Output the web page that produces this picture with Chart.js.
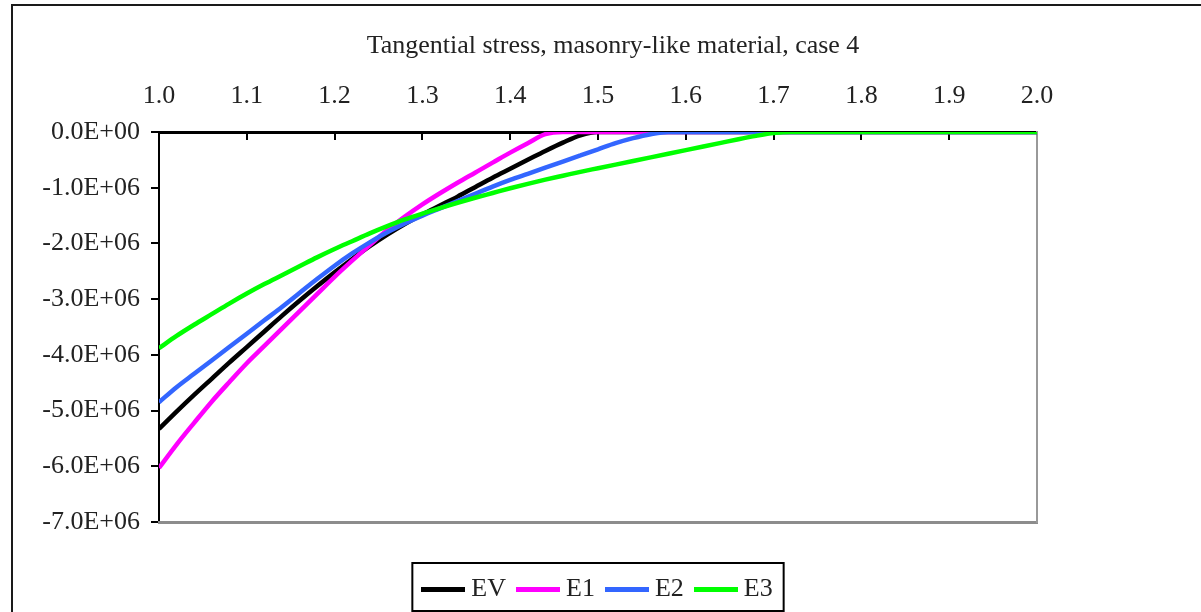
<!DOCTYPE html>
<html>
<head>
<meta charset="utf-8">
<script src="https://cdn.jsdelivr.net/npm/chart.js@4.4.1/dist/chart.umd.min.js"></script>
<style>
  html, body { margin: 0; padding: 0; background: #ffffff; }
  canvas { display: block; }
</style>
</head>
<body>
<canvas id="stressChart" width="1201" height="612"></canvas>
<script>
// Tangential stress along the radius for four elasticity variants
const chartTitle = 'Tangential stress, masonry-like material, case 4';
const seriesNames = ['EV', 'E1', 'E2', 'E3'];
const seriesColors = ['#000000', '#ff00ff', '#3366ff', '#00ff00'];

// radial coordinate (x axis)
const radiusRatio = [
  1.00, 1.02, 1.04, 1.06, 1.08, 1.10, 1.12, 1.14, 1.16, 1.18,
  1.20, 1.22, 1.24, 1.26, 1.28, 1.30, 1.32, 1.34, 1.36, 1.38,
  1.40, 1.42, 1.44, 1.46, 1.48, 1.50, 1.52, 1.54, 1.56, 1.58,
  1.60, 1.62, 1.64, 1.66, 1.68, 1.70, 1.72, 1.80, 1.90, 2.00
];

// tangential stress, Pa
const stressEV = [
  -5.33e6, -5.02e6, -4.72e6, -4.43e6, -4.14e6, -3.86e6, -3.58e6, -3.30e6, -3.03e6, -2.77e6,
  -2.52e6, -2.28e6, -2.05e6, -1.84e6, -1.65e6, -1.48e6, -1.32e6, -1.16e6, -0.99e6, -0.82e6,
  -0.66e6, -0.50e6, -0.34e6, -0.19e6, -0.06e6, 0, 0, 0, 0, 0,
  0, 0, 0, 0, 0, 0, 0, 0, 0, 0
];
const stressE1 = [
  -6.03e6, -5.61e6, -5.22e6, -4.84e6, -4.49e6, -4.15e6, -3.84e6, -3.53e6, -3.22e6, -2.91e6,
  -2.60e6, -2.31e6, -2.03e6, -1.76e6, -1.52e6, -1.30e6, -1.10e6, -0.91e6, -0.73e6, -0.55e6,
  -0.37e6, -0.20e6, -0.04e6, 0, 0, 0, 0, 0, 0, 0,
  0, 0, 0, 0, 0, 0, 0, 0, 0, 0
];
const stressE2 = [
  -4.85e6, -4.58e6, -4.34e6, -4.10e6, -3.86e6, -3.62e6, -3.38e6, -3.14e6, -2.89e6, -2.64e6,
  -2.40e6, -2.18e6, -1.98e6, -1.80e6, -1.64e6, -1.50e6, -1.37e6, -1.24e6, -1.11e6, -0.98e6,
  -0.86e6, -0.75e6, -0.64e6, -0.53e6, -0.42e6, -0.31e6, -0.20e6, -0.11e6, -0.04e6, 0,
  0, 0, 0, 0, 0, 0, 0, 0, 0, 0
];
const stressE3 = [
  -3.88e6, -3.66e6, -3.46e6, -3.27e6, -3.08e6, -2.90e6, -2.73e6, -2.57e6, -2.41e6, -2.25e6,
  -2.10e6, -1.96e6, -1.82e6, -1.69e6, -1.57e6, -1.465e6, -1.365e6, -1.27e6, -1.18e6, -1.095e6,
  -1.01e6, -0.93e6, -0.855e6, -0.785e6, -0.715e6, -0.65e6, -0.585e6, -0.52e6, -0.455e6, -0.39e6,
  -0.325e6, -0.26e6, -0.195e6, -0.13e6, -0.07e6, -0.02e6, 0, 0, 0, 0
];

const xTickValues = [1.0, 1.1, 1.2, 1.3, 1.4, 1.5, 1.6, 1.7, 1.8, 1.9, 2.0];
const yTickValues = [0, -1e6, -2e6, -3e6, -4e6, -5e6, -6e6, -7e6];

const allSeries = [stressEV, stressE1, stressE2, stressE3];
const serif = 'Liberation Serif';
const textColor = '#222222';
const fontSize = 26;

function formatStress(v) {
  if (v === 0) return '0.0E+00';
  return (v < 0 ? '-' : '') + (Math.abs(v) / 1e6).toFixed(1) + 'E+06';
}

// short line swatches for the legend
const swatches = seriesColors.map(c => {
  const cv = document.createElement('canvas');
  cv.width = 44; cv.height = 5;
  const g = cv.getContext('2d');
  g.fillStyle = c;
  g.fillRect(0, 0, 44, 5);
  return cv;
});

// page frame and heading
const framePlugin = {
  id: 'frame',
  beforeDraw(chart) {
    const ctx = chart.ctx;
    ctx.save();
    ctx.strokeStyle = '#1a1a1a';
    ctx.lineWidth = 2;
    ctx.beginPath();
    ctx.moveTo(12, chart.height);
    ctx.lineTo(12, 5);
    ctx.lineTo(chart.width, 5);
    ctx.stroke();
    ctx.fillStyle = textColor;
    ctx.font = fontSize + 'px "' + serif + '"';
    ctx.textAlign = 'center';
    ctx.textBaseline = 'middle';
    ctx.fillText(chartTitle, 613, 46);
    ctx.restore();
  }
};

// box around the legend entries
const legendFramePlugin = {
  id: 'legendFrame',
  afterDraw(chart) {
    const hb = chart.legend && chart.legend.legendHitBoxes;
    if (!hb || !hb.length) return;
    const first = hb[0], last = hb[hb.length - 1];
    const cy = first.top + first.height / 2;
    const left = first.left - 16;
    const right = last.left + last.width + 11;
    const ctx = chart.ctx;
    ctx.save();
    ctx.strokeStyle = '#000000';
    ctx.lineWidth = 2;
    ctx.strokeRect(left, cy - 26, right - left, 48);
    ctx.restore();
  }
};

const datasets = seriesNames.map((name, i) => ({
  label: name,
  data: radiusRatio.map((x, k) => ({ x: x, y: allSeries[i][k] })),
  borderColor: seriesColors[i],
  backgroundColor: seriesColors[i],
  borderWidth: 4.5,
  pointRadius: 0,
  fill: false,
  cubicInterpolationMode: 'monotone',
  order: seriesNames.length - 1 - i
}));

new Chart(document.getElementById('stressChart'), {
  type: 'line',
  data: { datasets: datasets },
  plugins: [framePlugin, legendFramePlugin],
  options: {
    responsive: false,
    animation: false,
    events: [],
    devicePixelRatio: 1,
    layout: { padding: 0 },
    plugins: {
      title: { display: false },
      tooltip: { enabled: false },
      legend: {
        position: 'bottom',
        maxHeight: 56,
        labels: {
          font: { family: serif, size: fontSize },
          color: textColor,
          usePointStyle: true,
          pointStyleWidth: 30,
          padding: 17,
          sort: (a, b) => a.datasetIndex - b.datasetIndex,
          generateLabels(chart) {
            const items = Chart.defaults.plugins.legend.labels.generateLabels(chart);
            items.forEach(it => { it.pointStyle = swatches[it.datasetIndex]; });
            return items;
          }
        }
      }
    },
    scales: {
      x: {
        type: 'linear',
        position: 'top',
        min: 1,
        max: 2,
        z: 1,
        afterBuildTicks(s) { s.ticks = xTickValues.map(v => ({ value: v })); },
        ticks: {
          callback: v => Number(v).toFixed(1),
          font: { family: serif, size: fontSize },
          color: textColor,
          padding: 28,
          maxRotation: 0,
          autoSkip: false
        },
        grid: { drawOnChartArea: false, tickLength: -8, color: '#000000', lineWidth: 2 },
        border: { color: '#000000', width: 3 },
        afterFit(s) { s.height = 132; }
      },
      y: {
        type: 'linear',
        min: -7e6,
        max: 0,
        z: 1,
        afterBuildTicks(s) { s.ticks = yTickValues.map(v => ({ value: v })); },
        ticks: {
          callback: v => formatStress(v),
          font: { family: serif, size: fontSize },
          color: textColor,
          padding: 11
        },
        grid: { drawOnChartArea: false, tickLength: 8, color: '#000000', lineWidth: 2 },
        border: { color: '#000000', width: 2 },
        afterFit(s) { s.width = 159; }
      },
      x2: {
        type: 'linear',
        position: 'bottom',
        min: 1,
        max: 2,
        ticks: { display: false },
        grid: { display: false },
        border: { color: '#8c8c8c', width: 3 },
        afterFit(s) { s.height = 37; }
      },
      y2: {
        type: 'linear',
        position: 'right',
        min: -7e6,
        max: 0,
        ticks: { display: false },
        grid: { display: false },
        border: { color: '#999999', width: 2 },
        afterFit(s) { s.width = 164; }
      }
    }
  }
});
</script>
</body>
</html>
